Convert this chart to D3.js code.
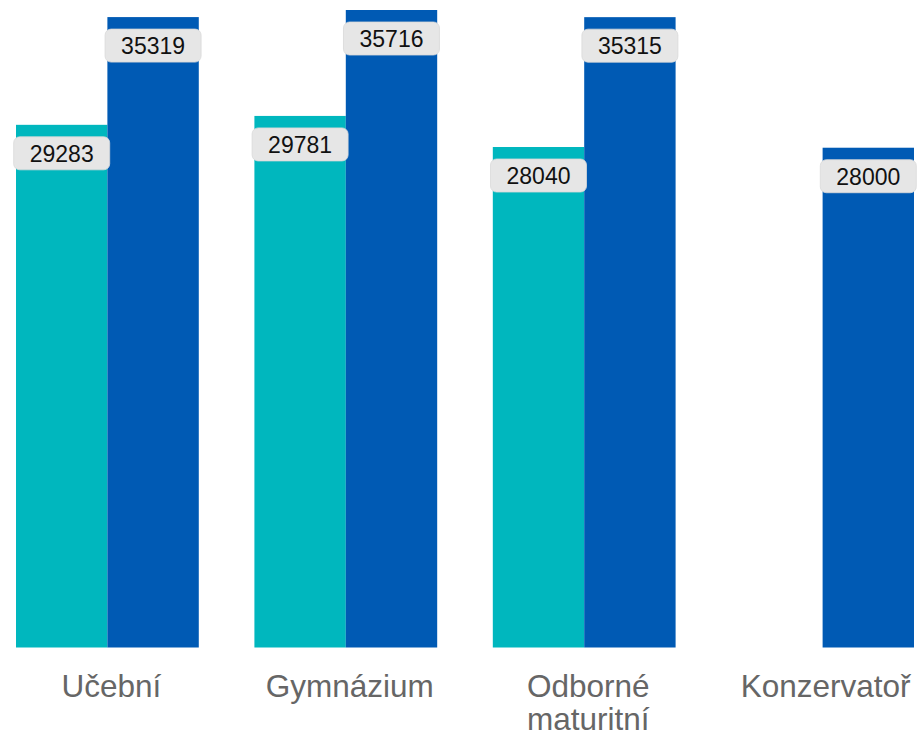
<!DOCTYPE html>
<html>
<head>
<meta charset="utf-8">
<script src="https://cdn.jsdelivr.net/npm/d3@7"></script>
<style>
  html, body { margin: 0; padding: 0; background: #fff; }
  svg { display: block; }
</style>
</head>
<body>
<svg id="chart" width="917" height="735"></svg>
<script>
// Categories (school types) and the two salary series
const categories = [["Učební"], ["Gymnázium"], ["Odborné", "maturitní"], ["Konzervatoř"]];
const categoryKeys = ["Učební", "Gymnázium", "Odborné maturitní", "Konzervatoř"];
const seriesNames = ["s1", "s2"];
const series1 = [29283, 29781, 28040, null];
const series2 = [35319, 35716, 35315, 28000];
const seriesColors = ["#00B7BE", "#005AB4"];

const W = 917;
const svg = d3.select("#chart");
const baseline = 647.5;

const x = d3.scaleBand()
  .domain(categoryKeys)
  .range([16, 914])
  .paddingInner(0.2333)
  .paddingOuter(0);

const xs = d3.scaleBand()
  .domain(seriesNames)
  .range([0, x.bandwidth()])
  .padding(0);

const y = d3.scaleLinear()
  .domain([0, 35716])
  .range([baseline, 10]);

const rows = [];
categoryKeys.forEach((c, i) => {
  [series1, series2].forEach((s, j) => {
    if (s[i] != null) rows.push({ cat: c, key: seriesNames[j], value: s[i], color: seriesColors[j] });
  });
});

// Bars
svg.append("g").selectAll("rect")
  .data(rows)
  .join("rect")
  .attr("x", d => x(d.cat) + xs(d.key))
  .attr("width", xs.bandwidth())
  .attr("y", d => y(d.value))
  .attr("height", d => baseline - y(d.value))
  .attr("fill", d => d.color);

// Value labels in rounded grey boxes
const boxW = 96, boxH = 33, boxOff = 12;
const lab = svg.append("g").selectAll("g")
  .data(rows)
  .join("g")
  .attr("transform", d => `translate(${x(d.cat) + xs(d.key) + xs.bandwidth() / 2},${y(d.value) + boxOff})`);

lab.append("rect")
  .attr("x", -boxW / 2)
  .attr("y", 0)
  .attr("width", boxW)
  .attr("height", boxH)
  .attr("rx", 6)
  .attr("fill", "#e6e6e6")
  .attr("stroke", "#d9d9d9")
  .attr("stroke-width", 0.8);

lab.append("text")
  .attr("x", 0)
  .attr("y", 25)
  .attr("text-anchor", "middle")
  .attr("font-family", "Liberation Sans, Arial, sans-serif")
  .attr("font-size", 23)
  .attr("fill", "#111")
  .text(d => d.value);

// Category labels, centred under each group and kept inside the right edge
const cl = svg.append("g").selectAll("text")
  .data(categories.map((lines, i) => ({ lines, key: categoryKeys[i] })))
  .join("text")
  .attr("text-anchor", "middle")
  .attr("font-family", "Liberation Sans, Arial, sans-serif")
  .attr("font-size", 31.5)
  .attr("fill", "#666666")
  .attr("transform", d => `translate(${x(d.key) + x.bandwidth() / 2 + 4},697)`);

cl.selectAll("tspan")
  .data(d => d.lines)
  .join("tspan")
  .attr("x", 0)
  .attr("dy", (d, i) => i === 0 ? 0 : 33)
  .text(d => d);

cl.each(function () {
  const b = this.getBBox();
  const t = d3.select(this).attr("transform");
  const m = /translate\(([-\d.]+),([-\d.]+)\)/.exec(t);
  const cx = +m[1];
  const overflow = cx + b.x + b.width - (W - 5);
  if (overflow > 0) d3.select(this).attr("transform", `translate(${cx - overflow},${m[2]})`);
});
</script>
</body>
</html>
